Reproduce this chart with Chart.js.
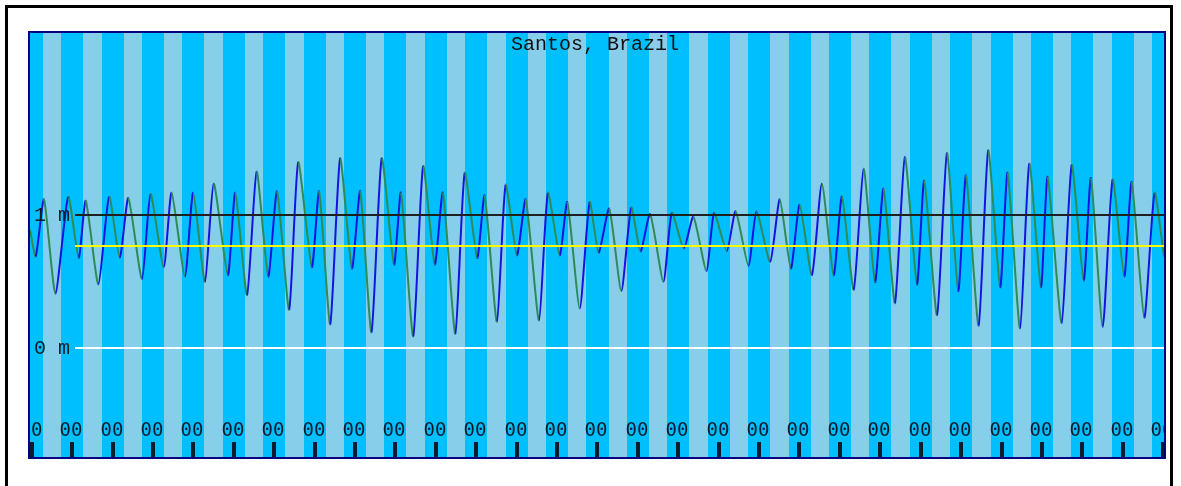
<!DOCTYPE html>
<html>
<head>
<meta charset="utf-8">
<title>Santos, Brazil</title>
<script src="https://cdn.jsdelivr.net/npm/chart.js@4.4.1/dist/chart.umd.min.js"></script>
<style>
  html, body { margin: 0; padding: 0; background: #ffffff; }
  canvas { display: block; }
</style>
</head>
<body>
<canvas id="tideChart" width="1181" height="486"></canvas>
<script>
// Station shown in the heading
const stationName = 'Santos, Brazil';

// Turning points of the tide: hours after the first midnight, level in metres
const tideHours = [
  -1.0, 2.4, 7.3, 14.1, 21.7, 27.9, 32.1, 39.6, 46.0, 52.3,
  57.4, 65.5, 70.6, 78.4, 83.1, 91.0, 95.9, 102.9, 108.1, 116.5,
  120.9, 127.9, 133.6, 140.5, 145.7, 152.9, 158.3, 166.4, 170.7, 177.3,
  183.2, 190.2, 195.1, 201.8, 207.9, 215.2, 219.3, 226.6, 232.5, 239.4,
  244.2, 251.6, 257.2, 264.6, 269.0, 276.3, 281.5, 288.2, 293.4, 301.3,
  306.6, 313.6, 318.1, 325.5, 331.4, 336.7, 343.0, 350.2, 356.1, 361.6,
  367.3, 375.2, 380.2, 387.3, 393.0, 400.8, 405.3, 412.8, 418.1, 425.7,
  430.5, 438.6, 444.3, 450.9, 456.1, 463.4, 469.3, 476.3, 481.2, 488.2,
  494.1, 500.9, 505.9, 512.7, 518.6, 525.8, 530.1, 537.7, 543.6, 550.3,
  554.9, 562.4, 568.1, 575.2, 579.6, 587.0, 592.5, 599.4, 603.4, 611.7,
  617.7, 624.8, 629.1, 636.1, 642.0, 648.9, 653.3, 660.8, 666.9, 672.5
];
const tideLevels = [
  0.89, 0.69, 1.12, 0.41, 1.14, 0.68, 1.11, 0.48, 1.14, 0.68,
  1.13, 0.52, 1.16, 0.61, 1.17, 0.54, 1.17, 0.50, 1.24, 0.55,
  1.17, 0.40, 1.33, 0.54, 1.18, 0.29, 1.40, 0.61, 1.18, 0.18,
  1.43, 0.60, 1.18, 0.12, 1.43, 0.63, 1.17, 0.09, 1.37, 0.63,
  1.17, 0.11, 1.32, 0.68, 1.15, 0.20, 1.23, 0.70, 1.12, 0.21,
  1.17, 0.70, 1.10, 0.30, 1.10, 0.72, 1.05, 0.43, 1.06, 0.73,
  1.01, 0.50, 1.02, 0.75, 0.99, 0.58, 1.02, 0.73, 1.03, 0.62,
  1.03, 0.65, 1.12, 0.60, 1.08, 0.55, 1.24, 0.55, 1.14, 0.44,
  1.35, 0.50, 1.20, 0.34, 1.44, 0.48, 1.26, 0.25, 1.47, 0.43,
  1.30, 0.17, 1.49, 0.46, 1.32, 0.15, 1.39, 0.46, 1.29, 0.19,
  1.38, 0.51, 1.28, 0.16, 1.27, 0.54, 1.25, 0.23, 1.17, 0.69
];

// Midnights along the bottom and their labels
const midnightHours = [];
for (let d = 0; d <= 28; d++) midnightHours.push(d * 24);
const midnightLabels = midnightHours.map(() => '00');

// Daylight window within each day (local hours)
const sunriseHour = 6.6;
const sunsetHour = 17.5;

// Reference levels: datum lines with labels, plus mean sea level
const datumLevels = [1, 0];
const datumLabels = ['1 m', '0 m'];
const datumColors = ['#202020', '#ffffff'];
const meanSeaLevel = 0.77;

const RISING = '#1414e0';
const FALLING = '#2e8b57';
const NIGHT = '#00bfff';
const DAY = '#87ceeb';

const tideDecor = {
  id: 'tideDecor',
  beforeDatasetsDraw(chart) {
    const { ctx, chartArea: a, scales: { x } } = chart;
    ctx.save();
    ctx.fillStyle = NIGHT;
    ctx.fillRect(a.left, a.top, a.width, a.height);
    ctx.beginPath();
    ctx.rect(a.left, a.top, a.width, a.height);
    ctx.clip();
    ctx.fillStyle = DAY;
    for (const m of midnightHours) {
      const x0 = Math.round(x.getPixelForValue(m + sunriseHour));
      const x1 = Math.round(x.getPixelForValue(m + sunsetHour));
      ctx.fillRect(x0, a.top, x1 - x0, a.height);
    }
    ctx.restore();
  },
  afterDatasetsDraw(chart) {
    const { ctx, chartArea: a, scales: { x, y } } = chart;
    ctx.save();
    ctx.beginPath();
    ctx.rect(a.left, a.top, a.width, a.height);
    ctx.clip();

    const lineStart = a.left + 45;
    // mean sea level
    ctx.lineWidth = 2;
    ctx.strokeStyle = '#ffff00';
    let py = Math.round(y.getPixelForValue(meanSeaLevel));
    ctx.beginPath(); ctx.moveTo(lineStart, py); ctx.lineTo(a.right, py); ctx.stroke();

    // datum lines and labels
    ctx.font = '20px "Liberation Mono", "DejaVu Sans Mono", monospace';
    ctx.textBaseline = 'middle';
    ctx.textAlign = 'left';
    datumLevels.forEach((lv, i) => {
      py = Math.round(y.getPixelForValue(lv));
      ctx.strokeStyle = datumColors[i];
      ctx.beginPath(); ctx.moveTo(lineStart, py); ctx.lineTo(a.right, py); ctx.stroke();
      ctx.fillStyle = '#101828';
      ctx.fillText(datumLabels[i], a.left + 4, py + 1);
    });

    // midnight ticks and labels
    ctx.font = '19px "DejaVu Sans Mono", monospace';
    ctx.textAlign = 'center';
    ctx.fillStyle = '#0c1c2c';
    midnightHours.forEach((h, i) => {
      const px = Math.round(x.getPixelForValue(h));
      ctx.fillText(midnightLabels[i], px - 1, a.bottom - 26);
      ctx.fillRect(px - 2, a.bottom - 15, 4, 15);
    });

    // heading
    ctx.font = '20px "Liberation Mono", "DejaVu Sans Mono", monospace';
    ctx.textAlign = 'center';
    ctx.fillStyle = '#101010';
    ctx.fillText(stationName, (a.left + a.right) / 2 - 2, a.top + 12);
    ctx.restore();

    // plot border
    ctx.save();
    ctx.strokeStyle = '#000080';
    ctx.lineWidth = 2;
    ctx.strokeRect(a.left - 1, a.top - 1, a.width + 2, a.height + 2);
    ctx.restore();
  },
  afterDraw(chart) {
    const ctx = chart.ctx;
    ctx.save();
    ctx.strokeStyle = '#000000';
    ctx.lineWidth = 3;
    ctx.beginPath();
    ctx.moveTo(6.5, 490);
    ctx.lineTo(6.5, 6.5);
    ctx.lineTo(1171.5, 6.5);
    ctx.lineTo(1171.5, 490);
    ctx.stroke();
    ctx.restore();
  }
};

new Chart(document.getElementById('tideChart'), {
  type: 'line',
  data: {
    datasets: [{
      data: tideHours.map((h, i) => ({ x: h, y: tideLevels[i] })),
      borderWidth: 2,
      pointRadius: 0,
      tension: 0.2,
      segment: {
        borderColor: c => (c.p1.parsed.y > c.p0.parsed.y ? RISING : FALLING)
      }
    }]
  },
  options: {
    responsive: false,
    animation: false,
    devicePixelRatio: 1,
    layout: { padding: { left: 30, top: 33, right: 17, bottom: 29 } },
    plugins: { legend: { display: false }, tooltip: { enabled: false }, title: { display: false } },
    scales: {
      x: { type: 'linear', display: false, min: -1.0, max: 672.5 },
      y: { type: 'linear', display: false, min: -0.817, max: 2.371 }
    }
  },
  plugins: [tideDecor]
});
</script>
</body>
</html>
